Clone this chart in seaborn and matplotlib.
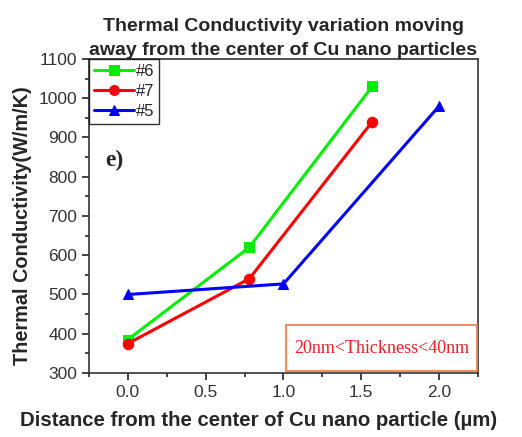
import numpy as np
import pandas as pd
import seaborn as sns
import matplotlib.pyplot as plt
from matplotlib.patches import Rectangle
from matplotlib.ticker import MultipleLocator, AutoMinorLocator

sns.set_style("ticks")
plt.rcParams['font.family'] = ['Liberation Sans', 'DejaVu Sans']

# Distance from the particle centre (µm) and thermal conductivity (W/m/K)
x6 = [0.0, 0.78, 1.57]
k6 = [385, 620, 1030]
x7 = [0.0, 0.78, 1.57]
k7 = [375, 540, 940]
x5 = [0.0, 1.0, 2.0]
k5 = [500, 527, 980]

series_names = ["#6", "#7", "#5"]
series_colors = ["#00ee00", "#ff0000", "#0000ff"]
series_markers = ["s", "o", "^"]

df = pd.concat([
    pd.DataFrame({"x": x6, "k": k6, "sample": "#6"}),
    pd.DataFrame({"x": x7, "k": k7, "sample": "#7"}),
    pd.DataFrame({"x": x5, "k": k5, "sample": "#5"}),
])

fig = plt.figure(figsize=(5.22, 4.37), dpi=100)
ax = fig.add_axes([0.1705, 0.1465, 0.7452, 0.7185])

for name, color, marker in zip(series_names, series_colors, series_markers):
    sub = df[df["sample"] == name]
    sns.lineplot(data=sub, x="x", y="k", ax=ax, color=color, marker=marker,
                 markersize=7.5, markeredgecolor=color, linewidth=2.2,
                 label=name, sort=False)

ax.set_xlim(-0.25, 2.25)
ax.set_ylim(300, 1100)
ax.xaxis.set_major_locator(MultipleLocator(0.5))
ax.xaxis.set_minor_locator(AutoMinorLocator(2))
ax.yaxis.set_major_locator(MultipleLocator(100))
ax.yaxis.set_minor_locator(AutoMinorLocator(2))
ax.tick_params(which="major", direction="out", length=5, width=1.2,
               labelsize=12.5, colors="#222222", top=False, right=False)
ax.tick_params(which="minor", direction="out", length=3, width=1.2,
               top=False, right=False)
for lab in ax.get_xticklabels() + ax.get_yticklabels():
    lab.set_color("#333333")
ax.xaxis.set_major_formatter(plt.FuncFormatter(lambda v, p: f"{v:.1f}"))

for s in ax.spines.values():
    s.set_linewidth(1.2)
    s.set_color("#333333")

ax.set_xlabel("Distance from the center of Cu nano particle (\u00b5m)",
              fontsize=14.7, fontweight="bold", labelpad=8)
ax.xaxis.label.set_x(0.437)
ax.set_ylabel("Thermal Conductivity(W/m/K)", fontsize=14.3, fontweight="bold",
              labelpad=5)
ax.yaxis.label.set_y(0.468)
ax.set_title("Thermal Conductivity variation moving\naway from the center of Cu nano particles",
             fontsize=14, fontweight="bold", pad=2.5, linespacing=1.55)

leg = ax.legend(loc="upper left", bbox_to_anchor=(0.0, 1.0), frameon=True,
                fancybox=False, edgecolor="black", fontsize=12,
                handlelength=2.4, handletextpad=0.1, borderpad=0.3,
                labelspacing=0.3, borderaxespad=0.0, markerscale=0.95)
leg.get_frame().set_linewidth(1.0)

ax.text(0.041, 0.678, "e)", transform=ax.transAxes, fontsize=17,
        fontweight="bold", va="center", ha="left",
        family=["Liberation Serif", "DejaVu Serif"])

# Annotation box for the film thickness range
ax.add_patch(Rectangle((0.506, 0.006), 0.491, 0.147, transform=ax.transAxes,
                       facecolor="white", edgecolor="#f08050",
                       linewidth=1.3, zorder=4))
ax.text(0.752, 0.078, "20nm<Thickness<40nm", transform=ax.transAxes,
        ha="center", va="center", fontsize=13, color="#e8202a", zorder=5,
        family=["Liberation Serif", "DejaVu Serif"])

fig.savefig("out.png", dpi=100)
